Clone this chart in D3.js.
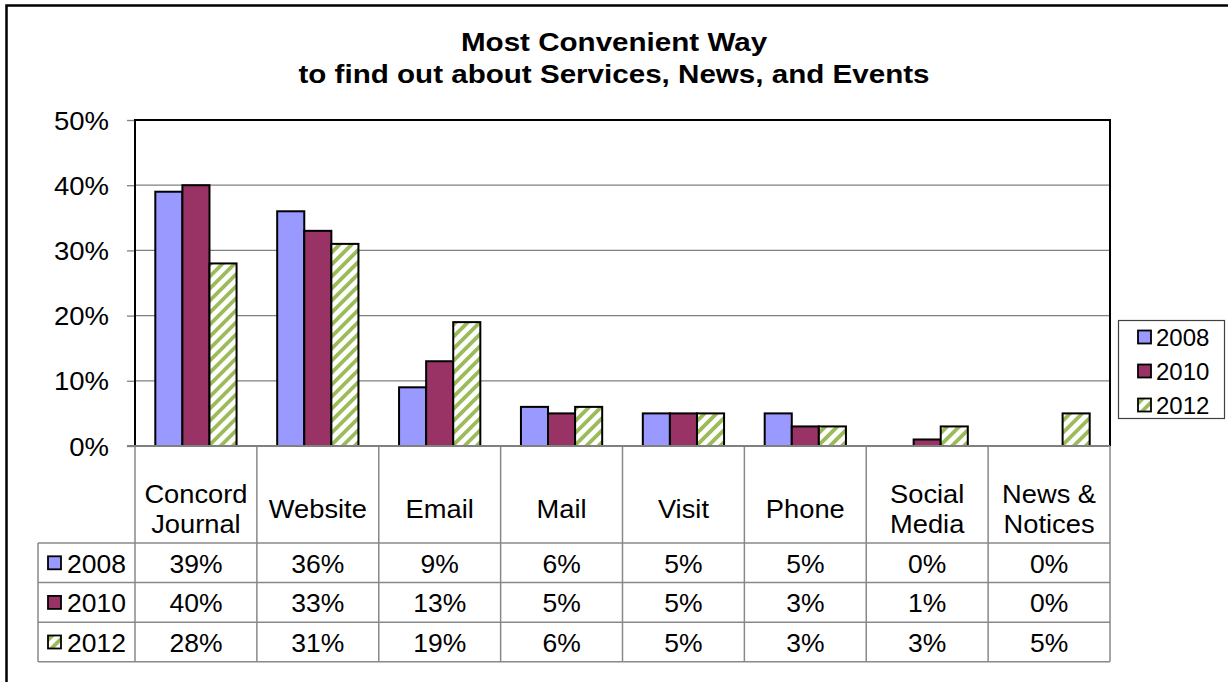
<!DOCTYPE html>
<html>
<head>
<meta charset="utf-8">
<script src="https://cdn.jsdelivr.net/npm/d3@7/dist/d3.min.js"></script>
<style>
  html, body { margin: 0; padding: 0; background: #fff; }
  svg { display: block; font-family: Arial, "Liberation Sans", sans-serif; }
</style>
</head>
<body>
<svg id="chart" width="1228" height="682"></svg>
<script>
// ---- Data ----
const categories = [["Concord", "Journal"], ["Website"], ["Email"], ["Mail"], ["Visit"], ["Phone"], ["Social", "Media"], ["News &", "Notices"]];
const seriesNames = ["2008", "2010", "2012"];
const values2008 = [39, 36, 9, 6, 5, 5, 0, 0];
const values2010 = [40, 33, 13, 5, 5, 3, 1, 0];
const values2012 = [28, 31, 19, 6, 5, 3, 3, 5];
const yTicks = [0, 10, 20, 30, 40, 50];
const titleLines = ["Most Convenient Way", "to find out about Services, News, and Events"];

const seriesValues = [values2008, values2010, values2012];
const seriesFill = ["#9999FF", "#993366", "url(#hatch2012)"];

const svg = d3.select("#chart");
const W = 1228, H = 682;

// place a text at its anchor point and widen it horizontally
function widen(sel, sx) {
  sel.each(function () {
    const t = d3.select(this);
    const x = +t.attr("x") || 0, y = +t.attr("y") || 0;
    t.attr("x", 0).attr("y", 0).attr("transform", `translate(${x},${y}) scale(${sx},1)`);
  });
}

// hatched fill for the 2012 series
const defs = svg.append("defs");
const pat = defs.append("pattern")
  .attr("id", "hatch2012")
  .attr("patternUnits", "userSpaceOnUse")
  .attr("width", 8.5).attr("height", 8.5)
  .attr("patternTransform", "rotate(45)");
pat.append("rect").attr("width", 8.5).attr("height", 8.5).attr("fill", "#fff");
pat.append("rect").attr("x", 0).attr("width", 3.8).attr("height", 8.5).attr("fill", "#9BBB59");

// outer frame
svg.append("rect")
  .attr("x", 6.5).attr("y", 5.5).attr("width", W + 20).attr("height", H + 20)
  .attr("fill", "none").attr("stroke", "#000").attr("stroke-width", 2.5);

// ---- Layout ----
const plot = { left: 135, right: 1110, top: 120, bottom: 446 };

const x = d3.scaleBand()
  .domain(d3.range(categories.length))
  .range([plot.left, plot.right])
  .paddingInner(0).paddingOuter(0);

const xInner = d3.scaleBand()
  .domain(d3.range(seriesNames.length))
  .range([0, x.bandwidth()])
  .paddingInner(0)
  .paddingOuter(0.75);

const y = d3.scaleLinear().domain([0, 50]).range([plot.bottom, plot.top]);

// title
svg.append("g").selectAll("text")
  .data(titleLines)
  .join("text")
  .attr("x", 614)
  .attr("y", (d, i) => 51 + i * 32)
  .attr("text-anchor", "middle")
  .attr("font-size", 25.5)
  .attr("font-weight", "bold")
  .text(d => d)
  .call(widen, 1.16);

// gridlines
svg.append("g").selectAll("line")
  .data(yTicks.filter(t => t > 0 && t < 50))
  .join("line")
  .attr("x1", plot.left).attr("x2", plot.right)
  .attr("y1", d => y(d)).attr("y2", d => y(d))
  .attr("stroke", "#808080").attr("stroke-width", 1.3);

// y axis with ticks
const yAxis = d3.axisLeft(y)
  .tickValues(yTicks)
  .tickFormat(d => d + "%")
  .tickSize(8)
  .tickPadding(18);
const gy = svg.append("g")
  .attr("transform", `translate(${plot.left},0)`)
  .call(yAxis);
gy.select(".domain").remove();
gy.selectAll(".tick line").attr("stroke", "#808080").attr("stroke-width", 1.3);
gy.selectAll(".tick text")
  .attr("font-size", 25)
  .attr("font-family", "Arial, 'Liberation Sans', sans-serif")
  .attr("fill", "#000")
  .attr("dy", null)
  .attr("y", 9)
  .call(widen, 1.1);

// bars
const groups = svg.append("g").selectAll("g")
  .data(categories.map((c, i) => i))
  .join("g")
  .attr("transform", i => `translate(${x(i)},0)`);

groups.selectAll("rect")
  .data(i => seriesValues.map((vals, s) => ({ s, v: vals[i] })))
  .join("rect")
  .filter(d => d.v > 0)
  .attr("x", d => xInner(d.s))
  .attr("y", d => y(d.v))
  .attr("width", xInner.bandwidth())
  .attr("height", d => y(0) - y(d.v))
  .attr("fill", d => seriesFill[d.s])
  .attr("stroke", "#000")
  .attr("stroke-width", 2);

// plot area frame (top, right, left)
svg.append("path")
  .attr("d", `M${plot.left},${plot.bottom} V${plot.top} H${plot.right} V${plot.bottom}`)
  .attr("fill", "none").attr("stroke", "#000").attr("stroke-width", 2);

// ---- Data table ----
const table = { left: 38, headerBottom: 543, rowH: 39.6 };
const tableBottom = table.headerBottom + table.rowH * seriesNames.length;
const grid = svg.append("g").attr("stroke", "#888").attr("stroke-width", 1.5).attr("fill", "none");

// horizontal rules
grid.selectAll("line.h")
  .data(d3.range(seriesNames.length + 1))
  .join("line").attr("class", "h")
  .attr("x1", table.left).attr("x2", plot.right)
  .attr("y1", i => table.headerBottom + i * table.rowH)
  .attr("y2", i => table.headerBottom + i * table.rowH);
// verticals across header + rows
grid.selectAll("line.v")
  .data(d3.range(categories.length + 1))
  .join("line").attr("class", "v")
  .attr("x1", i => plot.left + i * x.bandwidth())
  .attr("x2", i => plot.left + i * x.bandwidth())
  .attr("y1", plot.bottom).attr("y2", tableBottom);
grid.append("line")
  .attr("x1", table.left).attr("x2", table.left)
  .attr("y1", table.headerBottom).attr("y2", tableBottom);

// category axis line
svg.append("line")
  .attr("x1", plot.left - 8).attr("x2", plot.right)
  .attr("y1", plot.bottom).attr("y2", plot.bottom)
  .attr("stroke", "#808080").attr("stroke-width", 2);

// category headers, one text per line
const headerLines = [];
categories.forEach((lines, i) => {
  lines.forEach((ln, k) => headerLines.push({ i, ln, off: k - (lines.length - 1) / 2 }));
});
svg.append("g").selectAll("text")
  .data(headerLines)
  .join("text")
  .attr("x", d => x(d.i) + x.bandwidth() / 2)
  .attr("y", d => 518 + d.off * 30)
  .attr("text-anchor", "middle")
  .attr("font-size", 26)
  .text(d => d.ln)
  .call(widen, 1.05);

// rows: legend key + name, then values
seriesNames.forEach((name, s) => {
  const top = table.headerBottom + s * table.rowH;
  const cy = top + table.rowH / 2;
  const row = svg.append("g");
  row.append("rect")
    .attr("x", 48).attr("y", cy - 6.5).attr("width", 13).attr("height", 13)
    .attr("fill", seriesFill[s]).attr("stroke", "#000").attr("stroke-width", 1.8);
  row.append("text")
    .attr("x", 67).attr("y", top + 29.5)
    .attr("font-size", 25)
    .text(name)
    .call(widen, 1.06);
  row.selectAll("text.val")
    .data(seriesValues[s])
    .join("text").attr("class", "val")
    .attr("x", (d, i) => x(i) + x.bandwidth() / 2)
    .attr("y", top + 29.5)
    .attr("text-anchor", "middle")
    .attr("font-size", 25)
    .text(d => d + "%")
    .call(widen, 1.06);
});

// ---- Legend ----
const legend = svg.append("g");
legend.append("rect")
  .attr("x", 1118.5).attr("y", 320.5).attr("width", 106).attr("height", 98)
  .attr("fill", "#fff").attr("stroke", "#404040").attr("stroke-width", 1.2);
seriesNames.forEach((name, s) => {
  const cy = 337 + s * 34;
  legend.append("rect")
    .attr("x", 1138).attr("y", cy - 6.5).attr("width", 13).attr("height", 13)
    .attr("fill", seriesFill[s]).attr("stroke", "#000").attr("stroke-width", 1.8);
  legend.append("text")
    .attr("x", 1156).attr("y", cy + 9)
    .attr("font-size", 24)
    .text(name);
});
</script>
</body>
</html>
